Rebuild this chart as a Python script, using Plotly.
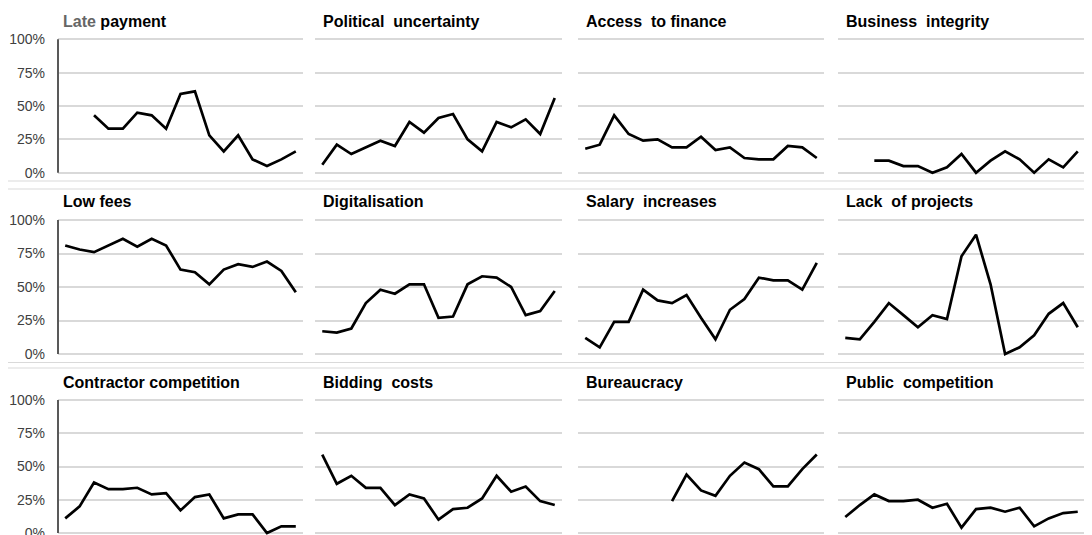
import plotly.graph_objects as go

# the page body has an 8px margin, so the figure is drawn 8px smaller and shifted
OFF = 8
W, H = 1092 - OFF, 535 - OFF

titles = ["<span style='color:#666666'>Late</span> payment", "Political  uncertainty", "Access  to finance", "Business  integrity",
          "Low fees", "Digitalisation", "Salary  increases", "Lack  of projects",
          "Contractor competition", "Bidding  costs", "Bureaucracy", "Public  competition"]

periods = list(range(17))

late_payment = [None, None, 43, 33, 33, 45, 43, 33, 59, 61, 28, 16, 28, 10, 5, 10, 16]
political = [6, 21, 14, 19, 24, 20, 38, 30, 41, 44, 25, 16, 38, 34, 40, 29, 56]
finance = [18, 21, 43, 29, 24, 25, 19, 19, 27, 17, 19, 11, 10, 10, 20, 19, 11]
integrity = [None, None, 9, 9, 5, 5, 0, 4, 14, 0, 9, 16, 10, 0, 10, 4, 16]
low_fees = [81, 78, 76, 81, 86, 80, 86, 81, 63, 61, 52, 63, 67, 65, 69, 62, 46]
digital = [17, 16, 19, 38, 48, 45, 52, 52, 27, 28, 52, 58, 57, 50, 29, 32, 47]
salary = [12, 5, 24, 24, 48, 40, 38, 44, 27, 11, 33, 41, 57, 55, 55, 48, 68]
lack_projects = [12, 11, 24, 38, 29, 20, 29, 26, 73, 89, 52, 0, 5, 14, 30, 38, 20]
contractor = [11, 20, 38, 33, 33, 34, 29, 30, 17, 27, 29, 11, 14, 14, 0, 5, 5]
bidding = [59, 37, 43, 34, 34, 21, 29, 26, 10, 18, 19, 26, 43, 31, 35, 24, 21]
bureaucracy = [None, None, None, None, None, None, 24, 44, 32, 28, 43, 53, 48, 35, 35, 48, 59]
public = [12, 21, 29, 24, 24, 25, 19, 22, 4, 18, 19, 16, 19, 5, 11, 15, 16]

series = [late_payment, political, finance, integrity,
          low_fees, digital, salary, lack_projects,
          contractor, bidding, bureaucracy, public]

tick_vals = [0, 25, 50, 75, 100]
tick_text = ["0%", "25%", "50%", "75%", "100%"]

# pixel layout of each panel's plot area (window coordinates)
cols_px = [(58, 303), (315, 562), (578, 824), (838, 1085)]
rows_px = [(172.7, 39.3), (354, 220), (533, 400)]   # (0% y, 100% y)

FONT = "Liberation Sans, Arial, sans-serif"

fig = go.Figure()
layout = {}
annotations = []
shapes = []

for i, vals in enumerate(series):
    r, c = divmod(i, 4)
    n = i + 1
    xa = "x" if n == 1 else "x%d" % n
    ya = "y" if n == 1 else "y%d" % n
    fig.add_trace(go.Scatter(x=periods, y=vals, mode="lines", xaxis=xa, yaxis=ya,
                             line=dict(color="black", width=2.7), showlegend=False,
                             connectgaps=False, hoverinfo="skip"))
    x0p, x1p = [v - OFF for v in cols_px[c]]
    y0p, y100p = [v - OFF for v in rows_px[r]]
    s = (y0p - y100p) / 100.0
    bot = min(y0p + 4, H)
    top = y100p - 4
    lo = -(bot - y0p) / s
    hi = 100 + (y100p - top) / s
    layout["xaxis" if n == 1 else "xaxis%d" % n] = dict(
        domain=[x0p / W, min(x1p / W, 1)], range=[-0.5, 16.5], anchor=ya,
        showgrid=False, zeroline=False, showticklabels=False, ticks="", showline=False)
    layout["yaxis" if n == 1 else "yaxis%d" % n] = dict(
        domain=[(H - bot) / H, (H - top) / H], range=[lo, hi], anchor=xa,
        tickvals=tick_vals, ticktext=tick_text, showticklabels=(c == 0),
        gridcolor="#d9d9d9", gridwidth=1.6, zeroline=False, showline=False, ticks="",
        ticklabelstandoff=12, ticklabeloverflow="allow", automargin=False,
        tickfont=dict(family=FONT, size=14, color="#404040"))
    if c == 0:
        shapes.append(dict(type="line", xref=xa + " domain", yref=ya, x0=0, x1=0, y0=0, y1=100,
                           line=dict(color="#595959", width=2)))
    annotations.append(dict(text="<b>" + titles[i] + "</b>", xref=xa + " domain", yref=ya,
                            x=0, y=100, xanchor="left", yanchor="middle",
                            xshift=3 if c == 0 else 6, yshift=18,
                            showarrow=False, font=dict(family=FONT, size=16, color="black")))

# light frame lines between chart rows
for yp in [6, 181, 189, 362.5, 368]:
    yy = (H - (yp - OFF)) / H
    shapes.append(dict(type="line", xref="paper", yref="paper", x0=0, x1=1,
                       y0=yy, y1=yy, line=dict(color="#d9d9d9", width=1.2)))

fig.update_layout(**layout)
fig.update_layout(width=W, height=H, margin=dict(l=0, r=0, t=0, b=0),
                  paper_bgcolor="white", plot_bgcolor="white",
                  annotations=annotations, shapes=shapes, font=dict(family=FONT))

fig.write_html("out.html")
